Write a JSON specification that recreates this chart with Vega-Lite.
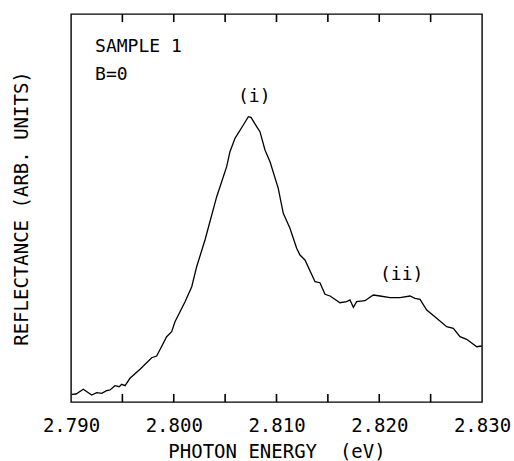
{
  "$schema": "https://vega.github.io/schema/vega-lite/v6.json",
  "autosize": "none",
  "width": 411,
  "height": 388,
  "padding": {"left": 71, "top": 14, "right": 32, "bottom": 59},
  "background": "white",
  "config": {
    "view": {"stroke": "black", "strokeWidth": 1.4},
    "font": "DejaVu Sans Mono",
    "axis": {"domainColor": "black", "tickColor": "black", "labelColor": "black", "titleColor": "black", "labelFont": "DejaVu Sans Mono", "titleFont": "DejaVu Sans Mono", "grid": false}
  },
  "datasets": {
    "curve": [
      {"E": 2.79007, "R": 7.7}, {"E": 2.79049, "R": 8}, {"E": 2.7912, "R": 12.7}, {"E": 2.79201, "R": 7},
      {"E": 2.7925, "R": 9.3}, {"E": 2.79299, "R": 8.7}, {"E": 2.79347, "R": 11.3}, {"E": 2.7938, "R": 12},
      {"E": 2.79428, "R": 16.3}, {"E": 2.7947, "R": 15.3}, {"E": 2.79493, "R": 17.7}, {"E": 2.79526, "R": 16.3},
      {"E": 2.79574, "R": 23.7}, {"E": 2.79672, "R": 32.7}, {"E": 2.79785, "R": 44.3}, {"E": 2.79834, "R": 46},
      {"E": 2.79931, "R": 65.3}, {"E": 2.7998, "R": 70.3}, {"E": 2.80012, "R": 80.3}, {"E": 2.8011, "R": 100.3},
      {"E": 2.80175, "R": 115.3}, {"E": 2.80223, "R": 135.3}, {"E": 2.80304, "R": 162}, {"E": 2.80418, "R": 205.3},
      {"E": 2.80515, "R": 235.3}, {"E": 2.80547, "R": 250.3}, {"E": 2.80596, "R": 263.7}, {"E": 2.80677, "R": 277},
      {"E": 2.80726, "R": 285.3}, {"E": 2.80752, "R": 284.7}, {"E": 2.80807, "R": 275.3}, {"E": 2.80839, "R": 270.3},
      {"E": 2.80888, "R": 252}, {"E": 2.80937, "R": 240.3}, {"E": 2.81017, "R": 213.7}, {"E": 2.81066, "R": 188.7},
      {"E": 2.81131, "R": 173.7}, {"E": 2.81196, "R": 153.7}, {"E": 2.81229, "R": 147}, {"E": 2.81277, "R": 142},
      {"E": 2.81375, "R": 120.3}, {"E": 2.81423, "R": 119.3}, {"E": 2.81472, "R": 107.7}, {"E": 2.81521, "R": 106},
      {"E": 2.81618, "R": 99.3}, {"E": 2.81683, "R": 100.3}, {"E": 2.81715, "R": 102}, {"E": 2.81748, "R": 94.7},
      {"E": 2.8178, "R": 100.3}, {"E": 2.81861, "R": 101.3}, {"E": 2.81942, "R": 107}, {"E": 2.82007, "R": 106},
      {"E": 2.82105, "R": 104.3}, {"E": 2.82202, "R": 104.3}, {"E": 2.82299, "R": 106}, {"E": 2.82348, "R": 103.7},
      {"E": 2.82397, "R": 102.7}, {"E": 2.82462, "R": 92}, {"E": 2.82559, "R": 83.7}, {"E": 2.82656, "R": 75.3},
      {"E": 2.82721, "R": 73.7}, {"E": 2.82786, "R": 65.3}, {"E": 2.82851, "R": 62.7}, {"E": 2.82949, "R": 55.3},
      {"E": 2.82997, "R": 56}
    ],
    "tickpos": [
      {"E": 2.795}, {"E": 2.8}, {"E": 2.805}, {"E": 2.81}, {"E": 2.815}, {"E": 2.82}, {"E": 2.825}
    ],
    "notes": [
      {"E": 2.79234, "R": 355, "label": "SAMPLE 1"},
      {"E": 2.79234, "R": 327, "label": "B=0"},
      {"E": 2.80625, "R": 305, "label": "(i)"},
      {"E": 2.82007, "R": 127, "label": "(ii)"}
    ]
  },
  "layer": [
    {
      "data": {"name": "curve"},
      "mark": {"type": "line", "color": "black", "strokeWidth": 1.3},
      "encoding": {
        "x": {"field": "E", "type": "quantitative", "scale": {"domain": [2.79, 2.83], "nice": false, "zero": false},
          "axis": {"orient": "bottom", "domain": false, "values": [2.79, 2.8, 2.81, 2.82, 2.83], "format": ".3f",
            "ticks": false, "labelPadding": 14, "labelFontSize": 19, "labelFlush": false,
            "title": "PHOTON ENERGY\u00a0 (eV)", "titleFontSize": 19, "titleFontWeight": "normal", "titlePadding": 7}},
        "y": {"field": "R", "type": "quantitative", "scale": {"domain": [0, 388], "nice": false},
          "axis": {"ticks": false, "labels": false, "domain": false, "title": "REFLECTANCE (ARB. UNITS)", "titleFontSize": 19, "titleFontWeight": "normal", "titlePadding": 40}}
      }
    },
    {
      "data": {"name": "tickpos"},
      "mark": {"type": "tick", "orient": "vertical", "color": "black", "opacity": 1, "size": 8, "thickness": 1.6},
      "encoding": {
        "x": {"field": "E", "type": "quantitative"},
        "y": {"datum": 4}
      }
    },
    {
      "data": {"name": "tickpos"},
      "mark": {"type": "tick", "orient": "vertical", "color": "black", "opacity": 1, "size": 8, "thickness": 1.6},
      "encoding": {
        "x": {"field": "E", "type": "quantitative"},
        "y": {"datum": 384}
      }
    },
    {
      "data": {"name": "notes"},
      "mark": {"type": "text", "align": "left", "baseline": "middle", "font": "DejaVu Sans Mono", "fontSize": 18, "color": "black"},
      "encoding": {
        "x": {"field": "E", "type": "quantitative"},
        "y": {"field": "R", "type": "quantitative"},
        "text": {"field": "label"}
      }
    }
  ]
}
